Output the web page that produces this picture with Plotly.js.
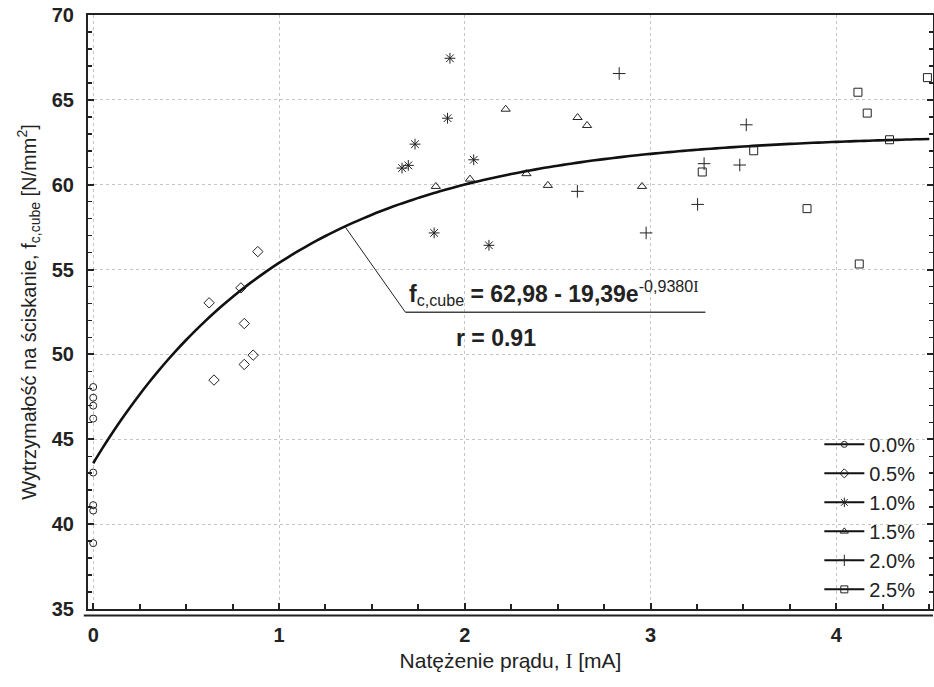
<!DOCTYPE html>
<html>
<head>
<meta charset="utf-8">
<script src="https://cdn.plot.ly/plotly-3.0.1.min.js"></script>
<style>
html,body{margin:0;padding:0;background:#fff;}
#chart{width:934px;height:687px;}
</style>
</head>
<body>
<div id="chart"></div>
<script>
// ---- data ----
const seriesNames = ['0.0%', '0.5%', '1.0%', '1.5%', '2.0%', '2.5%'];

const x00 = [0, 0, 0, 0, 0, 0, 0, 0];
const y00 = [48.08, 47.45, 46.98, 46.22, 43.04, 41.12, 40.80, 38.88];

const x05 = [0.624, 0.795, 0.886, 0.813, 0.861, 0.813, 0.650];
const y05 = [53.04, 53.92, 56.06, 51.82, 49.96, 49.41, 48.49];

const x10 = [1.920, 1.907, 1.732, 1.696, 1.662, 2.048, 1.835, 2.130];
const y10 = [67.45, 63.92, 62.39, 61.14, 60.98, 61.47, 57.16, 56.43];

const x15 = [2.220, 2.607, 2.658, 1.844, 2.028, 2.332, 2.447, 2.954];
const y15 = [64.45, 63.96, 63.49, 59.90, 60.33, 60.65, 59.96, 59.90];

const x20 = [2.831, 2.606, 2.976, 3.515, 3.288, 3.480, 3.253];
const y20 = [66.55, 59.61, 57.16, 63.53, 61.24, 61.16, 58.84];

const x25 = [3.278, 3.555, 4.116, 4.166, 4.286, 4.490, 3.842, 4.123];
const y25 = [60.75, 62.00, 65.45, 64.22, 62.65, 66.31, 58.59, 55.33];

// fitted model printed on the chart: f = a - b * exp(-k * I)
const fitA = 62.98, fitB = 19.39, fitK = 0.9380;
const fitX = [];
for (let i = 0; i <= 90; i++) fitX.push(i * 0.05);
const fitY = fitX.map(v => fitA - fitB * Math.exp(-fitK * v));

const xTickVals = [0, 1, 2, 3, 4];
const yTickVals = [35, 40, 45, 50, 55, 60, 65, 70];

// ---- drawing ----
const ink = '#222';
const symbols = ['circle-open', 'diamond-open', 'asterisk-open', 'triangle-up-open', 'cross-thin-open', 'square-open'];
const sizes = [7, 8, 9, 8, 9, 8];
const xs = [x00, x05, x10, x15, x20, x25];
const ys = [y00, y05, y10, y15, y20, y25];

const traces = [];
traces.push({
  x: fitX, y: fitY, mode: 'lines', type: 'scatter',
  line: {color: '#111', width: 2.6, shape: 'spline'},
  showlegend: false, hoverinfo: 'skip'
});
for (let i = 0; i < seriesNames.length; i++) {
  traces.push({
    x: xs[i], y: ys[i], mode: 'markers', type: 'scatter',
    marker: {symbol: symbols[i], size: sizes[i], color: ink, line: {color: ink, width: 1}},
    showlegend: false, name: seriesNames[i]
  });
}
for (let i = 0; i < seriesNames.length; i++) {
  traces.push({
    x: [null], y: [null], mode: 'lines+markers', type: 'scatter',
    name: seriesNames[i], legendgroup: 'g' + i,
    line: {color: '#111', width: 2},
    marker: {symbol: symbols[i], size: sizes[i] - 1, color: ink, line: {color: ink, width: 1}}
  });
}

const fam = 'Liberation Sans, Arial, sans-serif';
const font = {family: fam, color: '#222'};
const serifI = '<span style="font-family:\'Liberation Serif\',serif">I</span>';

const layout = {
  width: 934, height: 687,
  margin: {l: 88, r: 1, t: 15, b: 78},
  paper_bgcolor: '#fff', plot_bgcolor: '#fff',
  font: font,
  showlegend: true,
  legend: {
    x: 0.985, y: 0.31, xanchor: 'right', yanchor: 'top',
    bgcolor: 'rgba(0,0,0,0)', borderwidth: 0,
    font: {family: fam, size: 20, color: '#222'},
    traceorder: 'grouped', tracegroupgap: 0, itemwidth: 40
  },
  xaxis: {
    range: [-0.028, 4.52],
    tickvals: xTickVals, ticktext: xTickVals.map(String),
    tickfont: {family: fam, size: 20, color: '#222', weight: 'bold'},
    ticks: 'inside', ticklen: 6, tickwidth: 2, tickcolor: '#222',
    minor: {dtick: 0.25, tick0: 0, ticks: 'inside', ticklen: 5, tickwidth: 2, tickcolor: '#222', showgrid: false},
    showline: true, linecolor: '#222', linewidth: 2, mirror: true,
    showgrid: true, gridcolor: '#c4c4c4', griddash: 'dot', gridwidth: 1,
    zeroline: false, ticklabelstandoff: 7,
    title: {text: 'Natężenie prądu, ' + serifI + ' [mA]', font: {family: fam, size: 21, color: '#222'}, standoff: 8}
  },
  yaxis: {
    range: [35, 70],
    tickvals: yTickVals, ticktext: yTickVals.map(String),
    tickfont: {family: fam, size: 20, color: '#222', weight: 'bold'},
    ticks: 'inside', ticklen: 6, tickwidth: 2, tickcolor: '#222',
    minor: {dtick: 1, tick0: 35, ticks: 'inside', ticklen: 4, tickwidth: 1.5, tickcolor: '#222', showgrid: false},
    showline: true, linecolor: '#222', linewidth: 2, mirror: 'allticks',
    showgrid: true, gridcolor: '#c4c4c4', griddash: 'dot', gridwidth: 1,
    zeroline: false, ticklabelstandoff: 8,
    title: {text: 'Wytrzymałość na ściskanie, f<sub>c,cube</sub> [N/mm<sup>2</sup>]', font: {family: fam, size: 20, color: '#222'}, standoff: 10}
  },
  shapes: [
    // double bottom frame line
    {type: 'line', xref: 'paper', yref: 'paper', x0: -0.005, x1: 1, y0: -0.011, y1: -0.011, line: {color: '#222', width: 2}},
    // leader line from the curve to the equation
    {type: 'line', xref: 'x', yref: 'y', x0: 1.357, y0: 57.5, x1: 1.680, y1: 52.49, line: {color: '#222', width: 1}},
    {type: 'line', xref: 'x', yref: 'y', x0: 1.680, y0: 52.49, x1: 3.295, y1: 52.49, line: {color: '#444', width: 1.5}}
  ],
  annotations: [
    {xref: 'x', yref: 'y', x: 2.48, y: 52.55, xanchor: 'center', yanchor: 'bottom', showarrow: false,
     text: '<b>f</b><sub>c,cube</sub><b> = 62,98 - 19,39e</b><sup>-0,9380' + serifI + '</sup>',
     font: {family: fam, size: 23, color: '#222'}},
    {xref: 'x', yref: 'y', x: 2.17, y: 50.95, xanchor: 'center', yanchor: 'middle', showarrow: false,
     text: '<b>r = 0.91</b>',
     font: {family: fam, size: 23, color: '#222'}}
  ]
};

Plotly.newPlot('chart', traces, layout, {displayModeBar: false, staticPlot: true});
</script>
</body>
</html>
